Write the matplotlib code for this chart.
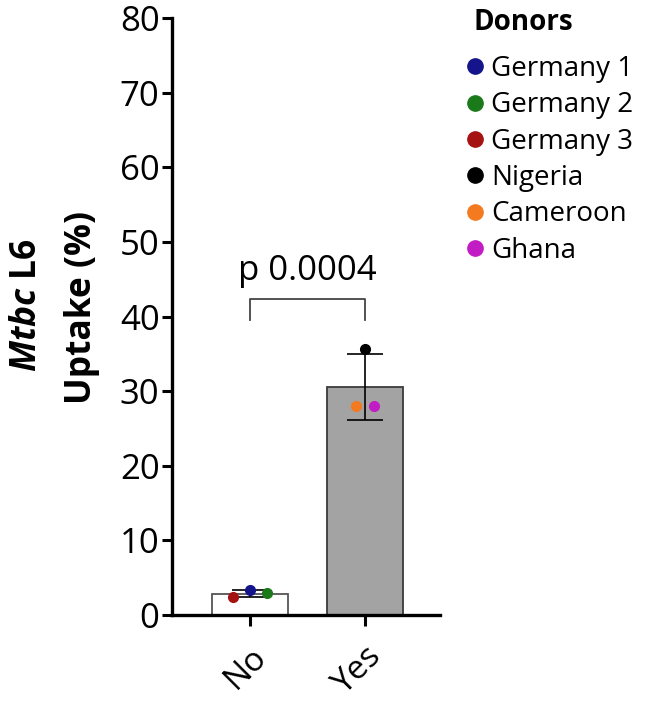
import matplotlib
matplotlib.use("Agg")
import matplotlib.pyplot as plt
import matplotlib.transforms as mtrans
from matplotlib.lines import Line2D
import numpy as np

plt.rcParams['font.family'] = ['Open Sans', 'DejaVu Sans']
plt.rcParams['mathtext.fontset'] = 'custom'
plt.rcParams['mathtext.it'] = 'Open Sans:italic:bold'
plt.rcParams['mathtext.rm'] = 'Open Sans:bold'

# data
groups = ['No', 'Yes']
donors = ['Germany 1', 'Germany 2', 'Germany 3', 'Nigeria', 'Cameroon', 'Ghana']
donor_colors = ['#14148c', '#1a7a1a', '#a51212', '#000000', '#f47a20', '#c21cc4']
no_donors = ['Germany 3', 'Germany 1', 'Germany 2']
no_values = [2.4, 3.3, 2.9]
yes_donors = ['Cameroon', 'Nigeria', 'Ghana']
yes_values = [28.0, 35.6, 28.0]
p_text = 'p 0.0004'
yticks = [0, 10, 20, 30, 40, 50, 60, 70, 80]

color_of = dict(zip(donors, donor_colors))
jitter = {'No': [-0.15, 0.0, 0.15], 'Yes': [-0.08, 0.0, 0.08]}

fig = plt.figure(figsize=(6.54, 7.14), dpi=100)
ax = fig.add_axes([0.263, 0.1387, 0.41, 0.836])

vals = [np.array(no_values), np.array(yes_values)]
names = [no_donors, yes_donors]
means = [v.mean() for v in vals]
sds = [v.std(ddof=1) for v in vals]
x = np.arange(len(groups))

ax.bar(x, means, width=0.66, color=['white', '#a3a3a3'],
       edgecolor=['#555555', '#3a3a3a'], linewidth=1.3, zorder=1)
ax.errorbar(x, means, yerr=sds, fmt='none', ecolor='black', elinewidth=1.2,
            capsize=13, capthick=1.2, zorder=2)

for i, g in enumerate(groups):
    for off, d, v in zip(jitter[g], names[i], vals[i]):
        ax.plot(x[i] + off, v, 'o', ms=7, color=color_of[d], zorder=3)

# significance bracket
by, leg = 42.3, 2.8
ax.plot([x[0], x[0], x[1], x[1]], [by - leg, by, by, by - leg],
        color='#444444', lw=1.3, clip_on=False)
ax.text((x[0] + x[1]) / 2, 44.9, p_text, ha='center', va='baseline', fontsize=25)

ax.set_xlim(-0.678, 1.652)
ax.set_ylim(0, 80)
ax.set_yticks(yticks)
ax.set_xticks(x)
ax.set_xticklabels(groups, rotation=45, ha='right', rotation_mode='anchor', fontsize=24)
shift = mtrans.ScaledTranslation(-7 / 72, -5 / 72, fig.dpi_scale_trans)
for lab in ax.get_xticklabels():
    lab.set_transform(lab.get_transform() + shift)
ax.tick_params(axis='y', labelsize=25, width=2.2, length=7, pad=2)
ax.tick_params(axis='x', width=2.2, length=8, pad=10)
for s in ['top', 'right']:
    ax.spines[s].set_visible(False)
for s in ['left', 'bottom']:
    ax.spines[s].set_linewidth(2.4)

# y label, two lines
fig.text(27 / 654, 1 - 305 / 714, r'$\mathit{Mtbc}$ L6', rotation=90,
         ha='center', va='center', fontsize=25.5, fontweight='bold')
fig.text(82 / 654, 1 - 307 / 714, 'Uptake (%)', rotation=90,
         ha='center', va='center', fontsize=25.5, fontweight='bold')

# legend
fig.text(473 / 654, 1 - 22 / 714, 'Donors', ha='left', va='center',
         fontsize=20, fontweight='bold')
handles = [Line2D([], [], marker='o', ls='none', ms=11, color=c) for c in donor_colors]
fig.legend(handles, donors, loc='upper left', bbox_to_anchor=(462 / 654, 1 - 55 / 714),
           frameon=False, fontsize=20, handletextpad=0.15,
           handlelength=0.9, labelspacing=0.3, borderaxespad=0, borderpad=0)

fig.savefig('out.png', dpi=100)
